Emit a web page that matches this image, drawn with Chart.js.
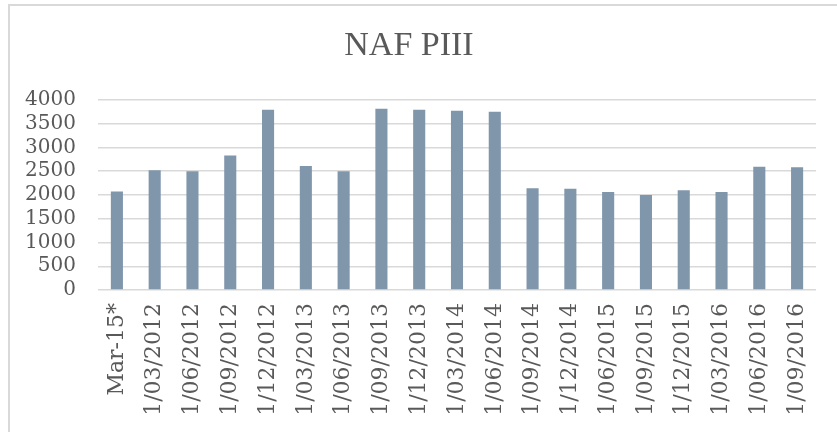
<!DOCTYPE html>
<html>
<head>
<meta charset="utf-8">
<script src="https://cdn.jsdelivr.net/npm/chart.js@4"></script>
<style>
  html, body { margin: 0; padding: 0; background: #fff; }
  #wrap { position: relative; width: 837px; height: 432px; overflow: hidden; }
  #frame {
    position: absolute; left: 8px; top: 4px; right: -10px; bottom: -10px;
    border-top: 2px solid #d9d9d9; border-left: 2px solid #d9d9d9;
  }
  #naf { position: absolute; left: 0; top: 0; }
</style>
</head>
<body>
<div id="wrap">
  <div id="frame"></div>
  <canvas id="naf" width="837" height="432"></canvas>
</div>
<script>
// Chart data
const periods = ['Mar-15*', '1/03/2012', '1/06/2012', '1/09/2012', '1/12/2012',
  '1/03/2013', '1/06/2013', '1/09/2013', '1/12/2013', '1/03/2014', '1/06/2014',
  '1/09/2014', '1/12/2014', '1/06/2015', '1/09/2015', '1/12/2015', '1/03/2016',
  '1/06/2016', '1/09/2016'];
const values = [2070, 2520, 2500, 2830, 3790, 2610, 2500, 3810, 3790, 3770, 3750,
  2140, 2130, 2060, 2000, 2100, 2060, 2590, 2580];
const yMax = 4000;
const yStep = 500;

const textGrey = '#595959';
const gridGrey = '#d9d9d9';
const serif = '"DejaVu Serif", serif';

new Chart(document.getElementById('naf').getContext('2d'), {
    type: 'bar',
    data: {
        labels: periods,
        datasets: [{
            label: 'NAF PIII',
            data: values,
            backgroundColor: '#7f96ab',
            borderWidth: 0,
            categoryPercentage: 1,
            barPercentage: 0.32
        }]
    },
    options: {
        responsive: false,
        animation: false,
        layout: { padding: { left: 0, right: 19, top: 0, bottom: 0 } },
        plugins: {
            legend: { display: false },
            tooltip: { enabled: false },
            title: {
                display: true,
                text: 'NAF PIII',
                color: textGrey,
                font: { family: '"Liberation Serif", serif', size: 34, weight: 'normal', lineHeight: 1.2 },
                padding: { top: 26, bottom: 33 }
            }
        },
        scales: {
            x: {
                grid: { display: false, drawTicks: false },
                border: { display: false },
                ticks: {
                    autoSkip: false,
                    minRotation: 90,
                    maxRotation: 90,
                    padding: 13,
                    color: textGrey,
                    font: { family: serif, size: 22 }
                },
                afterFit(scale) { scale.height = 142; }
            },
            y: {
                min: 0,
                max: yMax,
                grid: { color: gridGrey, lineWidth: 1.4, drawTicks: false },
                border: { display: false },
                ticks: {
                    stepSize: yStep,
                    autoSkip: false,
                    padding: 22,
                    color: textGrey,
                    font: { family: serif, size: 20, lineHeight: 1 },
                    callback: (v) => String(v)
                },
                afterFit(scale) { scale.width = 98; }
            }
        }
    }
});
</script>
</body>
</html>
